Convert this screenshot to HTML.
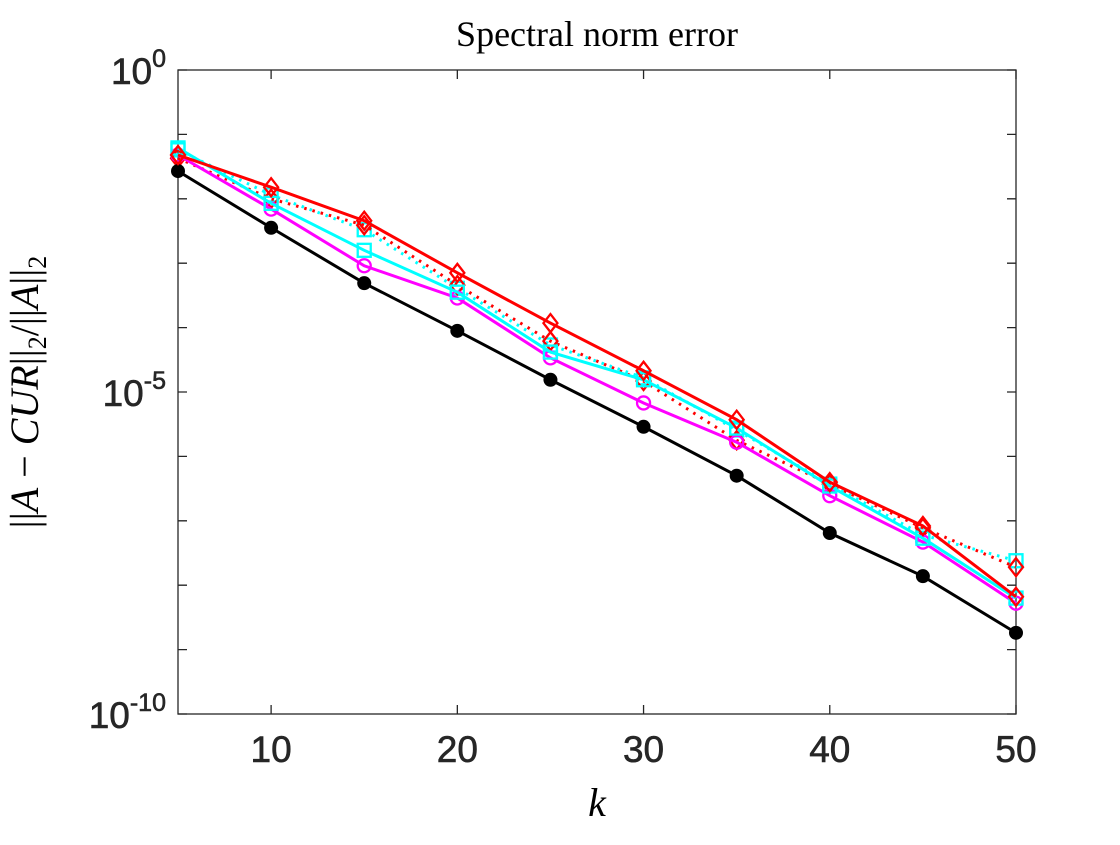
<!DOCTYPE html>
<html><head><meta charset="utf-8"><style>
body{margin:0;background:#fff;}
svg text{font-family:"Liberation Sans",sans-serif;}
</style></head><body>
<svg id="chart" width="1120" height="840" xmlns="http://www.w3.org/2000/svg">
<text x="597" y="46" text-anchor="middle" font-size="36" style="font-family:'Liberation Serif',serif">Spectral norm error</text>
<text x="597" y="816" text-anchor="middle" font-size="40" font-style="italic" style="font-family:'Liberation Serif',serif">k</text>
<text transform="translate(38,392) rotate(-90)" text-anchor="middle" font-size="40" style="font-family:'Liberation Serif',serif">||<tspan font-style="italic">A</tspan> − <tspan font-style="italic">CUR</tspan>||<tspan font-size="26" dy="8">2</tspan><tspan dy="-8">/||</tspan><tspan font-style="italic">A</tspan>||<tspan font-size="26" dy="8">2</tspan></text>
<g id="axes"></g>
<g id="series"></g>
</svg>
<script>
const kValues=[5,10,15,20,25,30,35,40,45,50];
const xTicks=[10,20,30,40,50];
const yTickExps=[0,-5,-10];
// log10 of relative error
const exact=[-1.57,-2.45,-3.31,-4.05,-4.81,-5.54,-6.30,-7.19,-7.86,-8.74];
const magentaSolid=[-1.32,-2.16,-3.04,-3.54,-4.47,-5.17,-5.78,-6.61,-7.33,-8.28];
const cyanSolid=[-1.21,-2.07,-2.80,-3.45,-4.38,-4.81,-5.56,-6.46,-7.27,-8.20];
const redSolid=[-1.32,-1.82,-2.34,-3.15,-3.93,-4.67,-5.43,-6.40,-7.08,-8.18];
const redDotted=[-1.37,-2.00,-2.41,-3.34,-4.21,-4.83,-5.75,-6.43,-7.11,-7.72];
const cyanDotted=[-1.24,-1.94,-2.48,-3.39,-4.27,-4.78,-5.59,-6.43,-7.22,-7.62];

const L=178,R=1016,T=70,B=714;
const xs=k=>L+(k-5)/45*(R-L);
const ys=e=>T+(0-e)/10*(B-T);
const NS='http://www.w3.org/2000/svg';
function mk(tag,attrs,parent){const el=document.createElementNS(NS,tag);for(const a in attrs)el.setAttribute(a,attrs[a]);parent.appendChild(el);return el;}
const ax=document.getElementById('axes');
const fr=mk('rect',{x:L,y:T,width:R-L,height:B-T,fill:'none',stroke:'#262626','stroke-width':1.3},ax);


for(const t of xTicks){
  const l=mk('path',{d:`M${xs(t)},${B}v-9M${xs(t)},${T}v9`,stroke:'#262626','stroke-width':1.3},ax);
  
  
  const tx=mk('text',{x:xs(t),y:B+48,'text-anchor':'middle','font-size':37,fill:'#262626','stroke':'#262626','stroke-width':0.6},ax);
  tx.textContent=t;
  
  
}
for(let e=-10;e<=0;e++){
  const l=mk('path',{d:`M${L},${ys(e)}h9M${R},${ys(e)}h-9`,stroke:'#262626','stroke-width':1.3},ax);
  
  
}
for(const e of yTickExps){
  const tx=mk('text',{x:L-12,y:ys(e)+14,'text-anchor':'end','font-size':37,fill:'#262626','stroke':'#262626','stroke-width':0.6},ax);
  tx.innerHTML='10<tspan font-size="25" dy="-17">'+e+'</tspan>';
  
  
}
const sg=document.getElementById('series');
function drawSeries(vals,color,dash,marker,name){
  const g=mk('g',{},sg);
  
  
  const d=vals.map((v,i)=>(i?'L':'M')+xs(kValues[i])+','+ys(v)).join('');
  mk('path',{d:d,fill:'none',stroke:color,'stroke-width':3,'stroke-dasharray':dash?'2.5 6':'none'},g);
  vals.forEach((v,i)=>{
    const x=xs(kValues[i]),y=ys(v);let m;
    if(marker==='dot')m=mk('circle',{cx:x,cy:y,r:7,fill:color},g);
    else if(marker==='circle')m=mk('circle',{cx:x,cy:y,r:6.5,fill:'none',stroke:color,'stroke-width':2.3},g);
    else if(marker==='square')m=mk('rect',{x:x-6.5,y:y-6.5,width:13,height:13,fill:'none',stroke:color,'stroke-width':2.3},g);
    else m=mk('path',{d:`M${x},${y-9}L${x+7},${y}L${x},${y+9}L${x-7},${y}Z`,fill:'none',stroke:color,'stroke-width':2.3},g);
    
    
  });
}
drawSeries(cyanDotted,'#00ffff',true,'square','series-cyan-dotted');
drawSeries(redDotted,'#ff0000',true,'diamond','series-red-dotted');
drawSeries(exact,'#000000',false,'dot','series-black');
drawSeries(magentaSolid,'#ff00ff',false,'circle','series-magenta');
drawSeries(cyanSolid,'#00ffff',false,'square','series-cyan');
drawSeries(redSolid,'#ff0000',false,'diamond','series-red');
</script>
</body></html>
